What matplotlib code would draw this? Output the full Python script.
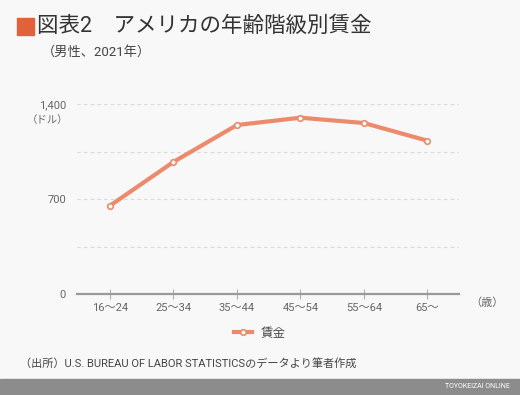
import matplotlib
matplotlib.use("Agg")
import matplotlib.pyplot as plt
from matplotlib.patches import Rectangle

plt.rcParams['font.family'] = ['Roboto', 'Noto Sans CJK JP', 'DejaVu Sans']

# data
age_groups = ["16～24", "25～34", "35～44", "45～54", "55～64", "65～"]
wages = [651, 973, 1245, 1299, 1260, 1130]
y_ticks = [0, 700, 1400]
y_tick_labels = ["0", "700", "1,400"]

line_color = "#EB8B6C"
bg = "#F8F8F8"

fig = plt.figure(figsize=(5.2, 3.95), dpi=100, facecolor=bg)
ax = fig.add_axes([77 / 520, 1 - 294 / 395, 382 / 520, 190 / 395])
ax.set_facecolor(bg)

x = list(range(len(age_groups)))
ax.plot(x, wages, "-o", color=line_color, linewidth=3, markersize=4,
        markerfacecolor="white", markeredgecolor=line_color, markeredgewidth=1.2,
        label="賃金", zorder=3, clip_on=False)

ax.set_xlim(-0.52, 5.5)
ax.set_ylim(0, 1400)
ax.set_yticks(y_ticks)
ax.set_yticklabels(y_tick_labels)
for v in (350, 700, 1050, 1400):
    ax.axhline(v, color="#D8D8D8", linewidth=0.8, linestyle=(0, (3, 3)), zorder=1)

ax.set_xticks(x)
ax.set_xticklabels(age_groups)
for s in ("top", "right", "left"):
    ax.spines[s].set_visible(False)
ax.spines["bottom"].set_color("#9A9A9A")
ax.spines["bottom"].set_linewidth(1.6)
ax.tick_params(axis="x", direction="inout", length=7, width=0.8, color="#B0B0B0",
               labelsize=8, labelcolor="#666666", pad=3)
ax.tick_params(axis="y", length=0, labelsize=8, labelcolor="#666666", pad=8)

fig.text(0.132, 1 - 120 / 395, "（ドル）", fontsize=7.5, color="#666666", ha="right", va="center")
fig.text(0.937, 1 - 303 / 395, "（歳）", fontsize=8, color="#666666", ha="center", va="center")

# title block
fig.patches.append(Rectangle((17 / 520, 1 - 35 / 395), 17 / 520, 17 / 395,
                             transform=fig.transFigure, color="#E0623A"))
fig.text(37 / 520, 1 - 26 / 395, "図表2　アメリカの年齢階級別賃金", fontsize=15.5,
         color="#333333", va="center", ha="left")
fig.text(42 / 520, 1 - 52 / 395, "（男性、2021年）", fontsize=9.5, color="#444444",
         va="center", ha="left")

fig.legend(loc="center", bbox_to_anchor=(0.5, 1 - 333 / 395), frameon=False,
           fontsize=9, labelcolor="#444444", handlelength=1.4, handletextpad=0.7)

fig.text(20 / 520, 1 - 363 / 395, "（出所）U.S. BUREAU OF LABOR STATISTICSのデータより筆者作成",
         fontsize=8, color="#444444", va="center", ha="left")

# footer bar
fig.patches.append(Rectangle((0, 0), 1, 16 / 395, transform=fig.transFigure,
                             color="#8C8C8C"))
fig.text(510 / 520, 8 / 395, "TOYOKEIZAI ONLINE", fontsize=5, color="white",
         ha="right", va="center")

fig.savefig("out.png", dpi=100, facecolor=bg)
